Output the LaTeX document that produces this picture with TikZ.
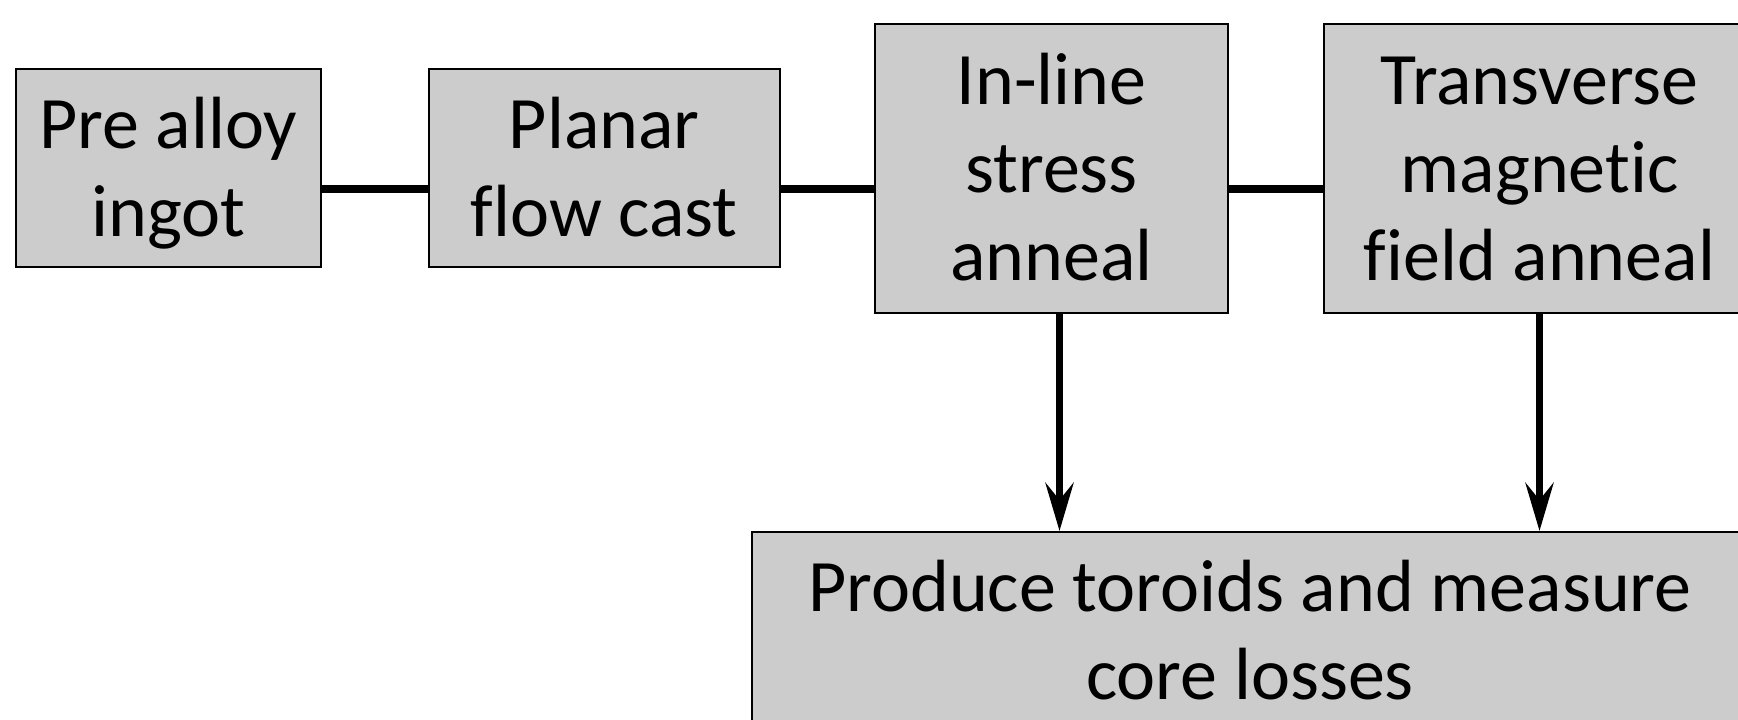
\documentclass[tikz,border=0pt]{standalone}
\usepackage{fontspec}
\setmainfont{Carlito}[Ligatures={NoCommon}]
\usetikzlibrary{arrows.meta}
\definecolor{boxgray}{gray}{0.8}
\newcommand{\lnstrut}{\rule[-20pt]{0pt}{88pt}}
\tikzset{
  stage/.style={draw=black, line width=2pt, fill=boxgray, rectangle, inner sep=0pt,
    align=center, font=\fontsize{74}{88}\selectfont},
  link/.style={line width=8.7pt},
  flow/.style={line width=7.7pt, -{Stealth[length=48pt 0 0, width=28pt 0 0, inset=17pt 0 0]}},
}
\begin{document}
\begin{tikzpicture}[x=1pt, y=-1pt]
\useasboundingbox (0,0) rectangle (1738,720);
\clip (0,0) rectangle (1738,720);
\fill[white] (0,0) rectangle (1738,720);
\node[stage, minimum width=305pt, minimum height=198pt] (b1) at (168.3,168.3)
  {\lnstrut Pre alloy\\\lnstrut ingot};
\node[stage, minimum width=351pt, minimum height=198pt] (b2) at (604.2,168.3)
  {\lnstrut Planar\\\lnstrut flow cast};
\node[stage, minimum width=352.5pt, minimum height=289.3pt] (b3) at (1051.5,168.3)
  {\lnstrut In-line\\\lnstrut stress\\\lnstrut anneal};
\node[stage, minimum width=431pt, minimum height=289.3pt] (b4) at (1539.5,168.3)
  {\lnstrut Transverse\\\lnstrut magnetic\\\lnstrut field anneal};
\node[stage, minimum width=996pt, minimum height=199.4pt] (b5) at (1250,631.7)
  {\lnstrut Produce toroids and measure\\\lnstrut core losses};
\draw[link] ([yshift=-20.7pt]b1.east) -- ([yshift=-20.7pt]b2.west);
\draw[link] ([yshift=-20.7pt]b2.east) -- ([yshift=-20.7pt]b3.west);
\draw[link] ([yshift=-20.7pt]b3.east) -- ([yshift=-20.7pt]b4.west);
\draw[flow] ([xshift=8pt]b3.south) -- ([xshift=8pt]b3.south |- b5.north);
\draw[flow] (b4.south) -- (b4.south |- b5.north);
\end{tikzpicture}
\end{document}
